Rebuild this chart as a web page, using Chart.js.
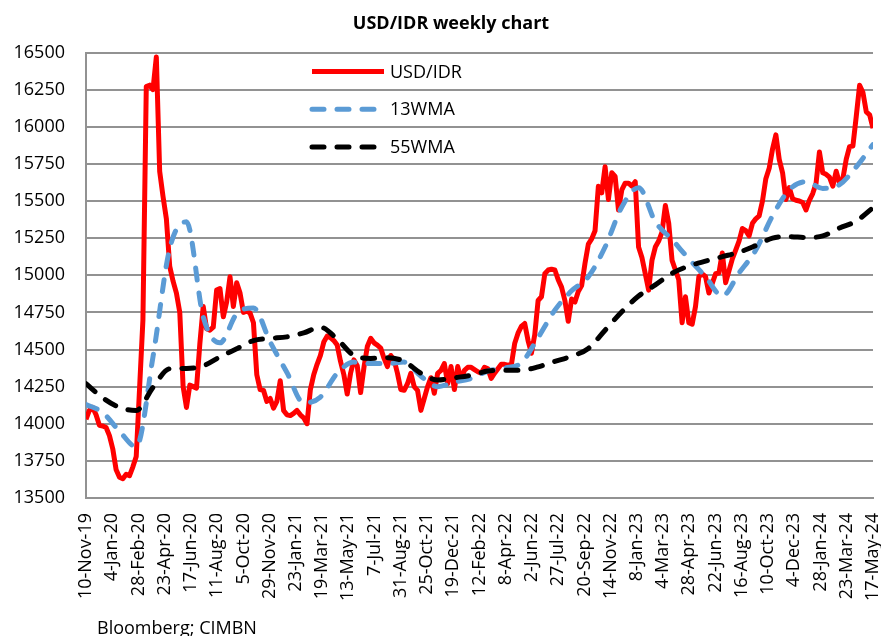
<!DOCTYPE html>
<html>
<head>
<meta charset="utf-8">
<script src="https://cdn.jsdelivr.net/npm/chart.js@4.4.1/dist/chart.umd.min.js"></script>
<style>
  body { margin: 0; background: #fff; }
  #wrap { position: relative; width: 881px; height: 636px; overflow: hidden; }
  #source {
    position: absolute; left: 97px; top: 618px;
    font: 18px/18px "Open Sans", sans-serif; color: #000; white-space: nowrap;
  }
</style>
</head>
<body>
<div id="wrap">
  <canvas id="chart" width="881" height="636"></canvas>
  <div id="source">Bloomberg; CIMBN</div>
</div>
<script>
// x axis labels, 31 of them spread evenly from first to last week
const tickLabels = [
  "10-Nov-19", "4-Jan-20", "28-Feb-20", "23-Apr-20", "17-Jun-20", "11-Aug-20",
  "5-Oct-20", "29-Nov-20", "23-Jan-21", "19-Mar-21", "13-May-21", "7-Jul-21",
  "31-Aug-21", "25-Oct-21", "19-Dec-21", "12-Feb-22", "8-Apr-22", "2-Jun-22",
  "27-Jul-22", "20-Sep-22", "14-Nov-22", "8-Jan-23", "4-Mar-23", "28-Apr-23",
  "22-Jun-23", "16-Aug-23", "10-Oct-23", "4-Dec-23", "28-Jan-24", "23-Mar-24",
  "17-May-24"
];

// weekly close, one value per week
const usdIdr = [
  14030, 14090, 14110, 14060, 13990, 13985, 13975, 13920, 13830, 13690,
  13640, 13630, 13660, 13650, 13710, 13780, 14240, 14700, 16270, 16280,
  16250, 16470, 15700, 15530, 15380, 15060, 14960, 14880, 14750, 14250,
  14110, 14260, 14250, 14240, 14540, 14790, 14640, 14630, 14650, 14900,
  14910, 14720, 14820, 14990, 14790, 14950, 14880, 14750, 14760, 14745,
  14680, 14330, 14230, 14225, 14150, 14170, 14105, 14150, 14290, 14090,
  14060, 14055, 14070, 14090, 14060, 14040, 14000, 14230, 14330, 14400,
  14460, 14550, 14590, 14580, 14560, 14530, 14420, 14330, 14200, 14340,
  14430, 14390, 14210, 14380, 14520, 14575, 14545, 14530, 14510, 14440,
  14385, 14460, 14430, 14340, 14230, 14225, 14270, 14340, 14250, 14225,
  14090, 14170, 14250, 14310, 14205, 14340, 14360, 14405, 14270, 14385,
  14230, 14385, 14300, 14360, 14380, 14380, 14365, 14350, 14340, 14380,
  14370, 14305, 14340, 14370, 14400, 14400, 14395, 14395, 14540, 14610,
  14655, 14675, 14560, 14475, 14600, 14830, 14855, 15010, 15035, 15040,
  15035, 14970, 14920, 14830, 14690, 14840, 14820, 14890, 14930, 15080,
  15210, 15245, 15300, 15600, 15555, 15730, 15510, 15690, 15665, 15440,
  15575, 15620, 15620, 15600, 15630, 15190, 15120, 15010, 14900, 15100,
  15190, 15230, 15290, 15470, 15350, 15100, 15035, 14970, 14680, 14855,
  14680, 14670, 14790, 14990, 15010, 14990, 14880, 14945, 15010, 15015,
  15150, 14950, 15030, 15110, 15170, 15230, 15315, 15300, 15265, 15350,
  15380, 15400, 15500, 15650, 15720, 15850, 15945, 15780, 15690, 15510,
  15590, 15515, 15505, 15500, 15490, 15440, 15505, 15550, 15620, 15830,
  15690, 15680, 15660, 15600, 15700, 15620, 15650, 15780, 15866, 15870,
  16070, 16280, 16230, 16100, 16080, 15990
];

// moving averages, read every 5th week
const maStep = 5;
const wma13 = [
  14130, 14075, 13950, 13845, 14450, 15180, 15360, 14720, 14545, 14740,
  14780, 14550, 14345, 14140, 14180, 14340, 14415, 14405, 14405, 14415,
  14320, 14250, 14280, 14305, 14355, 14375, 14410, 14580, 14765, 14895,
  14990, 15190, 15460, 15590, 15360, 15240, 15110, 14990, 14860, 15015,
  15170, 15400, 15575, 15630, 15585, 15610, 15730, 15880
];
const wma55 = [
  14270, 14175, 14110, 14090, 14245, 14370, 14372, 14390, 14450, 14505,
  14560, 14575, 14585, 14612, 14650, 14570, 14460, 14440, 14445, 14420,
  14340, 14295, 14310, 14327, 14355, 14361, 14361, 14383, 14420, 14455,
  14507, 14630, 14754, 14860, 14935, 15013, 15062, 15095, 15125, 15155,
  15200, 15250, 15260, 15254, 15265, 15318, 15365, 15455
];

const chartTitle = "USD/IDR weekly chart";
const lastWeek = usdIdr.length - 1;
const gridGray = "#929292";

// title sits a little left of the plot centre, legend sits inside the plot
const titleAndLegend = {
  id: "titleAndLegend",
  afterDraw(chart) {
    const ctx = chart.ctx;
    const area = chart.chartArea;
    ctx.save();
    ctx.fillStyle = "#000";
    ctx.font = 'bold 18px "Open Sans"';
    ctx.textAlign = "center";
    ctx.textBaseline = "alphabetic";
    ctx.fillText(chartTitle, area.left + 365, 29);
    ctx.restore();

    const x0 = area.left + 226, x1 = x0 + 72;
    chart.data.datasets.forEach((ds, k) => {
      const y = area.top + 19 + k * 37.7;
      ctx.save();
      ctx.strokeStyle = ds.borderColor;
      ctx.lineWidth = ds.borderWidth;
      ctx.lineCap = ds.borderCapStyle || "butt";
      ctx.setLineDash(ds.borderDash || []);
      ctx.beginPath();
      ctx.moveTo(x0, y);
      ctx.lineTo(x1, y);
      ctx.stroke();
      ctx.setLineDash([]);
      ctx.fillStyle = "#000";
      ctx.font = '18px "Open Sans"';
      ctx.textBaseline = "middle";
      ctx.fillText(ds.label, x1 + 6, y + 1);
      ctx.restore();
    });
  }
};

Chart.defaults.font.family = '"Open Sans", sans-serif';
Chart.defaults.color = "#000";

new Chart(document.getElementById("chart"), {
  type: "line",
  data: {
    datasets: [
      {
        label: "USD/IDR",
        data: usdIdr.map((v, i) => ({ x: i, y: v })),
        borderColor: "#ff0000",
        borderWidth: 5,
        borderJoinStyle: "round",
        pointRadius: 0,
        order: 3
      },
      {
        label: "13WMA",
        data: wma13.map((v, i) => ({ x: i * maStep, y: v })),
        borderColor: "#5b9bd5",
        borderWidth: 5,
        borderDash: [12, 13],
        borderCapStyle: "round",
        cubicInterpolationMode: "monotone",
        pointRadius: 0,
        order: 2
      },
      {
        label: "55WMA",
        data: wma55.map((v, i) => ({ x: i * maStep, y: v })),
        borderColor: "#000000",
        borderWidth: 5,
        borderDash: [12, 13],
        borderCapStyle: "round",
        cubicInterpolationMode: "monotone",
        pointRadius: 0,
        order: 1
      }
    ]
  },
  options: {
    responsive: false,
    animation: false,
    layout: { padding: { left: 0, right: 8, top: 52.5, bottom: 0 } },
    plugins: {
      legend: { display: false },
      tooltip: { enabled: false },
      title: { display: false }
    },
    scales: {
      x: {
        type: "linear",
        min: 0,
        max: lastWeek,
        afterBuildTicks: (s) => {
          s.ticks = tickLabels.map((_, k) => ({ value: (k * lastWeek) / (tickLabels.length - 1) }));
        },
        afterFit: (s) => {
          s.height = 138;
          s.paddingLeft = 0;
          s.paddingRight = 0;
        },
        grid: { display: false, drawTicks: false },
        border: { display: true, color: gridGray, width: 2 },
        ticks: {
          autoSkip: false,
          maxRotation: 90,
          minRotation: 90,
          padding: 15,
          font: { size: 18 },
          callback: (v, idx) => tickLabels[idx]
        }
      },
      y: {
        min: 13500,
        max: 16500,
        afterFit: (s) => { s.width = 86; },
        grid: { color: gridGray, lineWidth: 2, drawTicks: false },
        border: { display: true, color: gridGray, width: 2 },
        ticks: {
          stepSize: 250,
          padding: 21,
          font: { size: 18 },
          callback: (v) => String(v)
        }
      }
    }
  },
  plugins: [titleAndLegend]
});
</script>
</body>
</html>
